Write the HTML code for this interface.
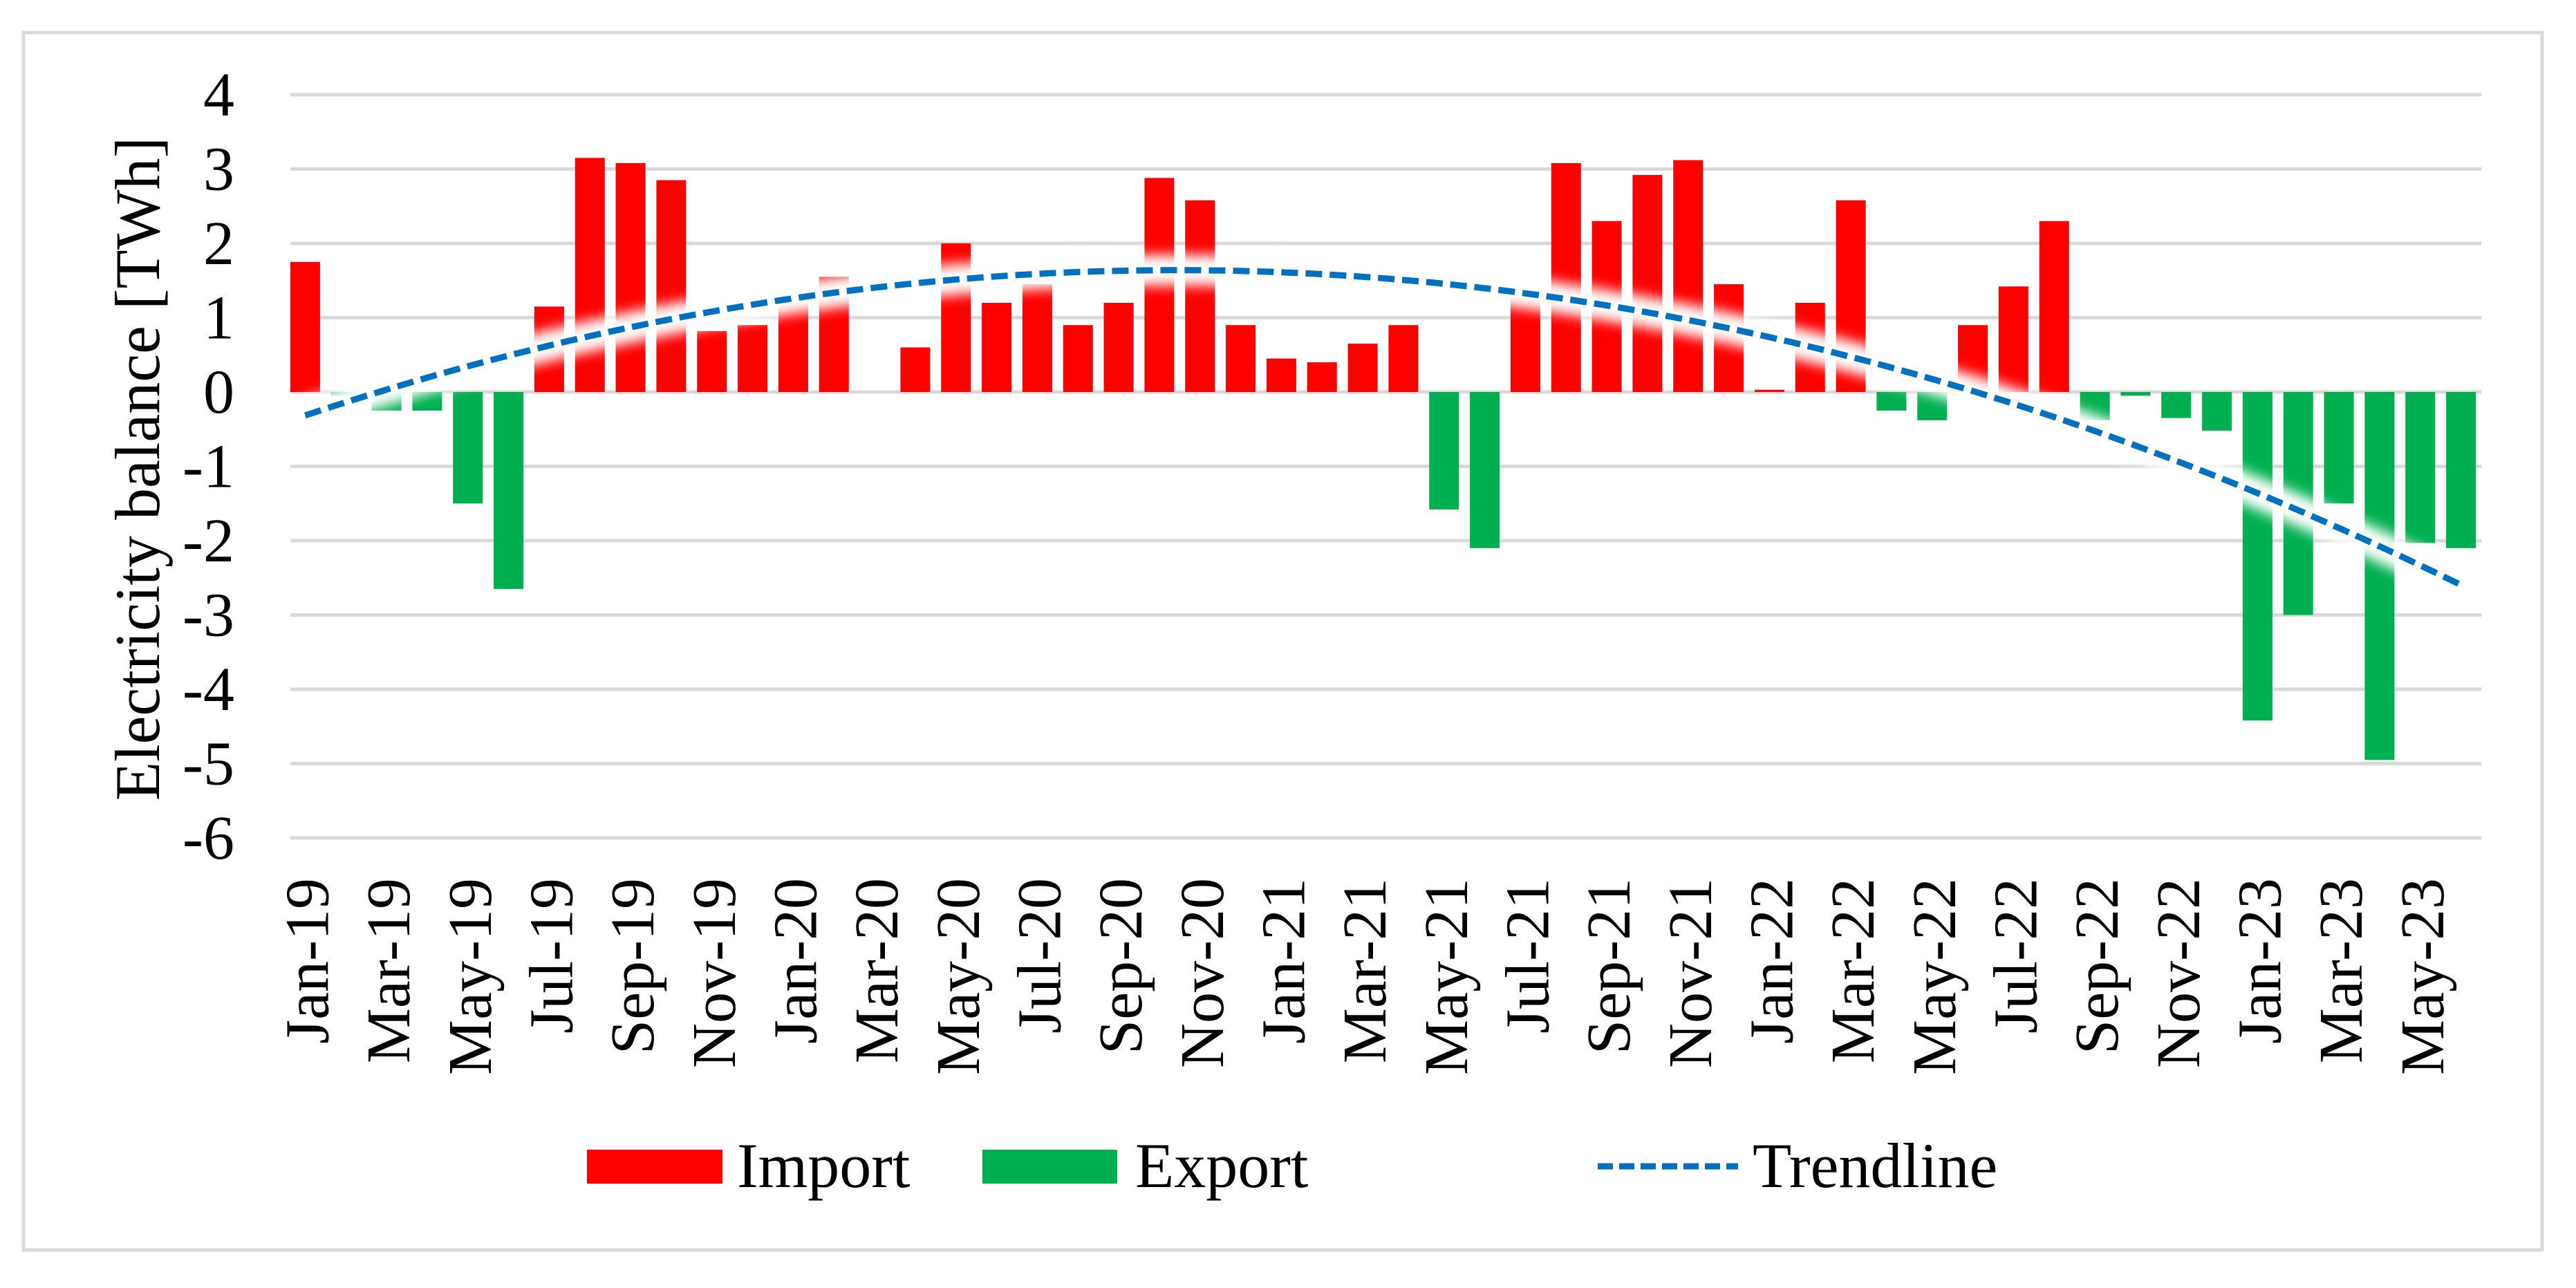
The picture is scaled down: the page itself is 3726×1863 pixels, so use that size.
<!DOCTYPE html>
<html><head><meta charset="utf-8">
<style>
html,body{margin:0;padding:0;background:#fff;}
svg{display:block;}
text{font-family:"Liberation Serif",serif;fill:#000;}
</style></head>
<body>
<svg id="chart" width="3726" height="1863" viewBox="0 0 3726 1863">
  <defs>
    <filter id="halo" x="-5%" y="-50%" width="110%" height="200%">
      <feGaussianBlur stdDeviation="9"/>
    </filter>
  </defs>
  <rect x="34" y="47" width="3643" height="1761" fill="#fff" stroke="#d9d9d9" stroke-width="5"/>
  <g id="grid"></g>
  <g id="yticks"></g>
  <g id="bars"></g>
  <g id="trend"></g>
  <g id="xticks"></g>
  <text x="0" y="0" font-size="92" text-anchor="middle" transform="translate(230,678) rotate(-90)">Electricity balance [TWh]</text>
  <g>
    <g>
      <rect x="849" y="1663" width="196" height="49" fill="#ff0000"/>
      <text x="1066" y="1717" font-size="92">Import</text>
    </g>
    <g>
      <rect x="1421" y="1663" width="195" height="49" fill="#00b050"/>
      <text x="1642" y="1717" font-size="92">Export</text>
    </g>
    <g>
      <line x1="2311" y1="1687" x2="2514" y2="1687" stroke="#0070c0" stroke-width="9" stroke-dasharray="22,9"/>
      <text x="2535" y="1717" font-size="92">Trendline</text>
    </g>
  </g>
</svg>
<script>
const months = ["Jan","Feb","Mar","Apr","May","Jun","Jul","Aug","Sep","Oct","Nov","Dec"];
const categories = [];
for (let y = 19; y <= 23; y++) for (let m = 0; m < 12; m++) { if (y === 23 && m > 5) break; categories.push(months[m] + "-" + y); }
const values = [1.75,-0.05,-0.25,-0.25,-1.5,-2.65,1.15,3.15,3.08,2.85,0.82,0.9,
  1.2,1.55,0,0.6,2.0,1.2,1.45,0.9,1.2,2.88,2.58,0.9,
  0.45,0.4,0.65,0.9,-1.58,-2.1,1.3,3.08,2.3,2.92,3.12,1.45,
  0.03,1.2,2.58,-0.25,-0.38,0.9,1.42,2.3,-0.38,-0.05,-0.35,-0.52,
  -4.42,-3.0,-1.5,-4.95,-2.03,-2.1];
const yTicks = [4,3,2,1,0,-1,-2,-3,-4,-5,-6];

const NS = "http://www.w3.org/2000/svg";
const X0 = 412, X1 = 3589, GX0 = 420, Y4 = 137, UNIT = (1212 - 137) / 10;
const band = (X1 - X0) / categories.length;
const xC = i => X0 + band * (i + 0.5);
const yS = v => Y4 + (4 - v) * UNIT;
function mk(tag, attrs, parent) { const e = document.createElementNS(NS, tag); for (const k in attrs) e.setAttribute(k, attrs[k]); parent.appendChild(e); return e; }

const grid = document.getElementById("grid"), yt = document.getElementById("yticks");
yTicks.forEach(t => {
  const l = mk("line", {x1: GX0, x2: X1, y1: yS(t), y2: yS(t), stroke: "#d9d9d9", "stroke-width": 5}, grid);
  
  
  const tx = mk("text", {x: 339, y: yS(t) + 30, "font-size": 90, "text-anchor": "end"}, yt);
  tx.textContent = String(t);
  
  
});

const bars = document.getElementById("bars");
const bw = 43;
values.forEach((v, i) => {
  if (v === 0) return;
  const y = Math.min(yS(v), yS(0)), h = Math.abs(yS(v) - yS(0));
  const r = mk("rect", {x: xC(i) - bw / 2, y: y, width: bw, height: h, fill: v > 0 ? "#ff0000" : "#00b050"}, bars);
  
  
});

// polynomial (order 2) least-squares trendline derived from values
const n = values.length;
let S = [0,0,0,0,0], T = [0,0,0];
values.forEach((v, i) => { const x = i + 1; for (let k = 0; k < 5; k++) S[k] += Math.pow(x, k); for (let k = 0; k < 3; k++) T[k] += v * Math.pow(x, k); });
const A = [[S[0],S[1],S[2],T[0]],[S[1],S[2],S[3],T[1]],[S[2],S[3],S[4],T[2]]];
for (let c = 0; c < 3; c++) { for (let r = 0; r < 3; r++) { if (r === c) continue; const f = A[r][c] / A[c][c]; for (let k = c; k < 4; k++) A[r][k] -= f * A[c][k]; } }
const coef = [A[0][3] / A[0][0], A[1][3] / A[1][1], A[2][3] / A[2][2]];
let d = "";
for (let s = 0; s <= 200; s++) { const xi = s * (n - 1) / 200; const x = xi + 1; const v = coef[0] + coef[1] * x + coef[2] * x * x; d += (s ? "L" : "M") + xC(xi).toFixed(1) + "," + yS(v).toFixed(1); }
const trend = document.getElementById("trend");
const halo = mk("path", {d: d, fill: "none", stroke: "#fff", "stroke-width": 44, filter: "url(#halo)"}, trend);


const tl = mk("path", {d: d, fill: "none", stroke: "#0070c0", "stroke-width": 9, "stroke-dasharray": "24,11"}, trend);



const xt = document.getElementById("xticks");
categories.forEach((c, i) => {
  if (i % 2) return;
  const x = xC(i) + 33, y = 1270;
  const t = mk("text", {x: 0, y: 0, "font-size": 90, "text-anchor": "end", transform: "translate(" + x + "," + y + ") rotate(-90)"}, xt);
  t.textContent = c;
  
  
});
</script>
</body></html>
